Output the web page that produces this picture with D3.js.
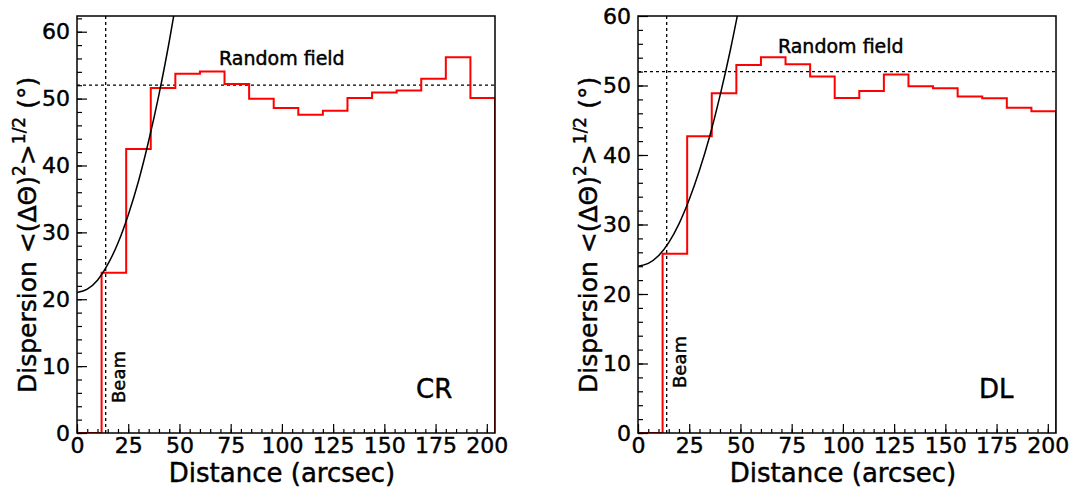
<!DOCTYPE html>
<html>
<head>
<meta charset="utf-8">
<script src="https://cdn.jsdelivr.net/npm/d3@7"></script>
<style>
  html, body { margin: 0; padding: 0; background: #fff; }
  svg { display: block; font-family: "DejaVu Sans", sans-serif; }
  svg text { fill: #000; stroke: #000; stroke-width: 0.45px; }
</style>
</head>
<body>
<svg id="chart" width="1074" height="488"></svg>
<script>
// Angular dispersion vs. distance, two regions (CR, DL)
const binEdges = [0, 12, 24, 36, 48, 60, 72, 84, 96, 108, 120, 132, 144, 156, 168, 180, 192, 204];

const crValues = [0, 23.96, 42.45, 51.6, 53.7, 54.07, 52.2, 49.97, 48.6, 47.6, 48.2, 50.1, 50.9, 51.2, 52.96, 56.2, 50.1];
const dlValues = [0, 25.8, 42.7, 48.9, 52.95, 54.05, 53.05, 51.3, 48.2, 49.2, 51.6, 49.9, 49.6, 48.4, 48.15, 46.8, 46.3];

// Fitted dispersion curve, sampled along distance
const fitX = [0, 5, 10, 15, 20, 25, 30, 35, 40, 45, 50];
const crFitY = [21.0, 21.5, 22.85, 25.2, 28.4, 32.6, 37.65, 43.7, 50.6, 58.5, 67.3];
const dlFitY = [24.0, 24.4, 25.5, 27.4, 30.1, 33.6, 37.8, 42.7, 48.5, 55.0, 62.3];

const randomField = 52;   // degrees
const beamSize = 14;      // arcsec

const xTicks = [0, 25, 50, 75, 100, 125, 150, 175, 200];
const yTicks = [0, 10, 20, 30, 40, 50, 60];

const panels = [
  { name: "CR", values: crValues, fit: crFitY, yMax: 62.35, left: 77,
    rfLabel: [69.3, 55.0], beamLabelY: 403, tagX: 416 },
  { name: "DL", values: dlValues, fit: dlFitY, yMax: 60, left: 638,
    rfLabel: [68.3, 54.7], beamLabelY: 388, tagX: 979 }
];

const svg = d3.select("#chart");
const plotW = 418, plotTop = 16, plotBottom = 433;

panels.forEach((p, i) => {
  const x = d3.scaleLinear().domain([0, 204]).range([p.left, p.left + plotW]);
  const y = d3.scaleLinear().domain([0, p.yMax]).range([plotBottom, plotTop]);
  const g = svg.append("g");

  const clipId = "clip" + i;
  g.append("clipPath").attr("id", clipId)
    .append("rect").attr("x", p.left).attr("y", plotTop).attr("width", plotW).attr("height", plotBottom - plotTop);

  // minor ticks
  g.append("g").attr("transform", `translate(0,${plotBottom})`)
    .call(d3.axisBottom(x).tickValues(d3.range(0, 205, 5)).tickSize(-4).tickFormat(""))
    .call(a => a.select(".domain").remove())
    .selectAll("line").attr("stroke", "#000").attr("stroke-width", 1.2);
  g.append("g").attr("transform", `translate(${p.left},0)`)
    .call(d3.axisLeft(y).tickValues(d3.range(0, p.yMax, 2)).tickSize(-5).tickFormat(""))
    .call(a => a.select(".domain").remove())
    .selectAll("line").attr("stroke", "#000").attr("stroke-width", 1.2);

  // major ticks + labels
  const xa = g.append("g").attr("transform", `translate(0,${plotBottom})`)
    .call(d3.axisBottom(x).tickValues(xTicks).tickSize(-9).tickPadding(4).tickFormat(d3.format("d")));
  xa.select(".domain").remove();
  xa.selectAll("line").attr("stroke", "#000").attr("stroke-width", 1.2);
  xa.selectAll("text").attr("font-size", 22).attr("font-family", "DejaVu Sans");

  const ya = g.append("g").attr("transform", `translate(${p.left},0)`)
    .call(d3.axisLeft(y).tickValues(yTicks).tickSize(-10).tickPadding(7).tickFormat(d3.format("d")));
  ya.select(".domain").remove();
  ya.selectAll("line").attr("stroke", "#000").attr("stroke-width", 1.2);
  ya.selectAll("text").attr("font-size", 22).attr("font-family", "DejaVu Sans");

  const plot = g.append("g").attr("clip-path", `url(#${clipId})`);

  // random-field level
  plot.append("line")
    .attr("x1", x(0)).attr("x2", x(204)).attr("y1", y(randomField)).attr("y2", y(randomField))
    .attr("stroke", "#000").attr("stroke-width", 1.3).attr("stroke-dasharray", "3,3");
  // beam size
  plot.append("line")
    .attr("x1", x(beamSize)).attr("x2", x(beamSize)).attr("y1", y(0)).attr("y2", y(p.yMax))
    .attr("stroke", "#000").attr("stroke-width", 1.3).attr("stroke-dasharray", "3,3");

  // histogram outline
  const pts = p.values.map((v, k) => [binEdges[k], v]);
  pts.push([binEdges[binEdges.length - 1], p.values[p.values.length - 1]]);
  const stepLine = d3.line().x(d => x(d[0])).y(d => y(d[1])).curve(d3.curveStepAfter);
  plot.append("path").attr("d", stepLine(pts) + `L${x(204)},${y(0)}`)
    .attr("fill", "none").attr("stroke", "#ff0000").attr("stroke-width", 2);

  // fit curve
  const fitLine = d3.line().x(d => x(d[0])).y(d => y(d[1])).curve(d3.curveMonotoneX);
  plot.append("path").attr("d", fitLine(fitX.map((v, k) => [v, p.fit[k]])))
    .attr("fill", "none").attr("stroke", "#000").attr("stroke-width", 1.5);

  // frame
  g.append("rect").attr("x", p.left).attr("y", plotTop).attr("width", plotW).attr("height", plotBottom - plotTop)
    .attr("fill", "none").attr("stroke", "#000").attr("stroke-width", 1.5);

  // annotations
  g.append("text").attr("x", x(p.rfLabel[0])).attr("y", y(p.rfLabel[1]))
    .attr("font-size", 19).text("Random field");
  g.append("text")
    .attr("transform", `translate(${x(beamSize) + 19},${p.beamLabelY}) rotate(-90)`)
    .attr("font-size", 18).text("Beam");
  g.append("text").attr("x", p.tagX).attr("y", 398).attr("font-size", 26).text(p.name);

  // axis titles
  g.append("text").attr("x", p.left + 205).attr("y", 482).attr("text-anchor", "middle")
    .attr("font-size", 26).text("Distance (arcsec)");

  const yt = g.append("text")
    .attr("transform", `translate(${p.left - 41},393) rotate(-90)`)
    .attr("font-size", 25);
  yt.append("tspan").text("Dispersion  <(ΔΘ)");
  yt.append("tspan").attr("dy", -11).attr("font-size", 17).text("2");
  yt.append("tspan").attr("dy", 11).text(">");
  yt.append("tspan").attr("dy", -11).attr("font-size", 17).text("1/2");
  yt.append("tspan").attr("dy", 11).text(" (°)");
});
</script>
</body>
</html>
